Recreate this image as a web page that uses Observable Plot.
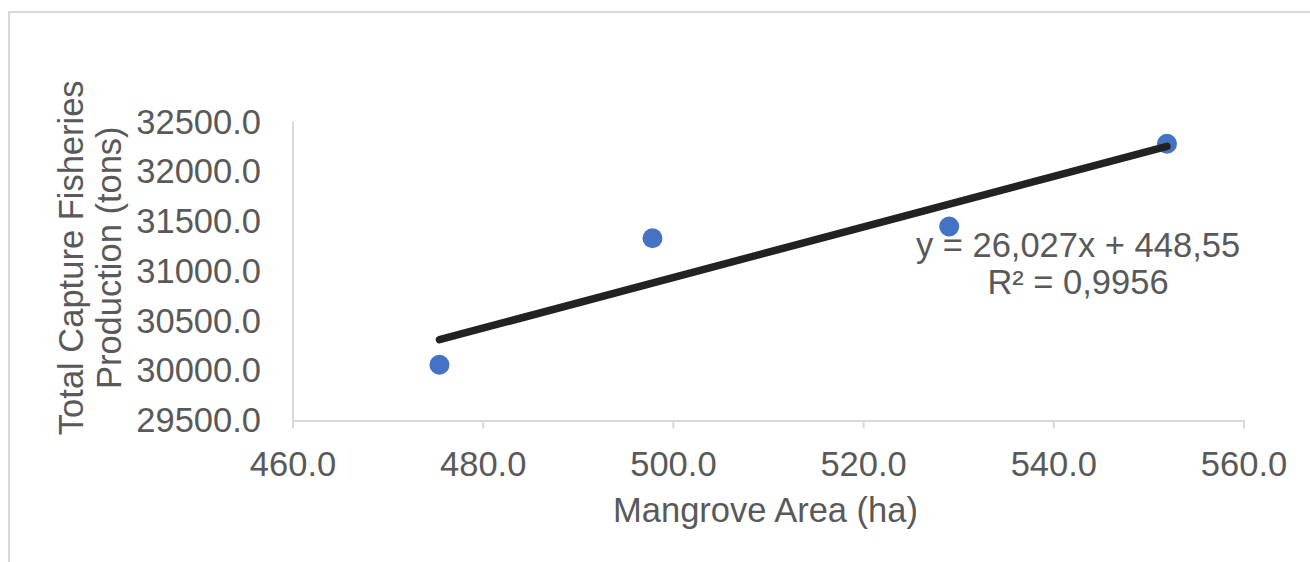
<!DOCTYPE html>
<html>
<head>
<meta charset="utf-8">
<script src="https://cdn.jsdelivr.net/npm/d3@7"></script>
<script src="https://cdn.jsdelivr.net/npm/@observablehq/plot@0.6"></script>
<style>
  html, body { margin: 0; padding: 0; background: #fff; overflow: hidden; }
  #wrap { position: relative; width: 1310px; height: 562px; }
  #border { position: absolute; left: 8px; top: 11px; width: 1400px; height: 700px;
            border: 2px solid #d9d9d9; box-sizing: border-box; }
  #chart { position: absolute; left: 0; top: 0; }
</style>
</head>
<body>
<div id="wrap"><div id="border"></div><div id="chart"></div></div>
<script>
const mangroveArea = [475.4, 497.8, 529.0, 551.9];
const fisheriesProduction = [30065, 31337, 31455, 32286];
const xTicks = [460, 480, 500, 520, 540, 560];
const yTicks = [29500, 30000, 30500, 31000, 31500, 32000, 32500];
const xTitle = "Mangrove Area (ha)";
const yTitle = "Total Capture Fisheries\nProduction (tons)";
const equationLines = "y = 26,027x + 448,55\nR² = 0,9956";

const data = mangroveArea.map((x, i) => ({x, y: fisheriesProduction[i]}));

const gray = "#595959";
const axisGray = "#d9d9d9";
const font = "'Liberation Sans', Arial, sans-serif";
const fs = 34.5;

const chart = Plot.plot({
  width: 1310,
  height: 562,
  marginLeft: 292.5,
  marginRight: 66.5,
  marginTop: 122,
  marginBottom: 141.5,
  style: {fontFamily: font, fontSize: fs + "px", color: gray, background: "transparent"},
  x: {domain: [460, 560]},
  y: {domain: [29500, 32500]},
  marks: [
    Plot.frame({anchor: "left", stroke: axisGray, strokeWidth: 2, strokeOpacity: 1}),
    Plot.frame({anchor: "bottom", stroke: axisGray, strokeWidth: 2, strokeOpacity: 1}),
    Plot.axisX({ticks: xTicks, tickFormat: d => d.toFixed(1), tickSize: 8, tickPadding: 22,
                stroke: axisGray, strokeWidth: 2, strokeOpacity: 1, fill: gray, fontSize: fs, label: null}),
    Plot.axisY({ticks: yTicks, tickFormat: d => d.toFixed(1), tickSize: 0, tickPadding: 32,
                fill: gray, fontSize: fs, label: null}),
    Plot.text([xTitle], {frameAnchor: "bottom", dy: 90, dx: -3, text: d => d, fill: gray,
                fontSize: fs, lineAnchor: "middle", textAnchor: "middle"}),
    Plot.text([yTitle], {frameAnchor: "left", rotate: -90, dx: -203.5, dy: -14, text: d => d,
                fill: gray, fontSize: fs, lineAnchor: "middle", textAnchor: "middle", lineHeight: 1.1}),
    Plot.dot(data, {x: "x", y: "y", r: 10, fill: "#4472C4", stroke: "none"}),
    Plot.linearRegressionY(data, {x: "x", y: "y", ci: 0, stroke: "#222222", strokeWidth: 7.5,
                strokeLinecap: "round"}),
    Plot.text([equationLines], {frameAnchor: "top-right", dx: -166, dy: 141, text: d => d,
                fill: gray, fontSize: fs, lineAnchor: "middle", lineHeight: 1.08, textAnchor: "middle"})
  ]
});
document.getElementById("chart").appendChild(chart);
</script>
</body>
</html>
